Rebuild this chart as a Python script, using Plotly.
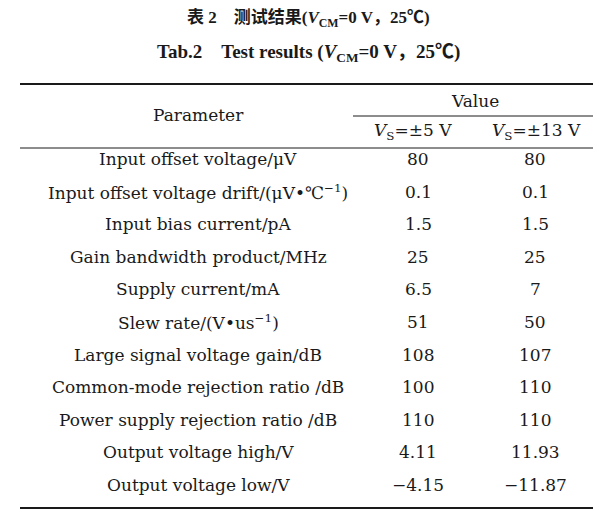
import plotly.graph_objects as go

params = ["Input offset voltage/μV", "Input offset voltage drift/(μV•℃<sup>−1</sup>)",
          "Input bias current/pA", "Gain bandwidth product/MHz", "Supply current/mA",
          "Slew rate/(V•us<sup>−1</sup>)", "Large signal voltage gain/dB",
          "Common-mode rejection ratio /dB", "Power supply rejection ratio /dB",
          "Output voltage high/V", "Output voltage low/V"]
vals5 = ["80", "0.1", "1.5", "25", "6.5", "51", "108", "100", "110", "4.11", "−4.15"]
vals13 = ["80", "0.1", "1.5", "25", "7", "50", "107", "110", "110", "11.93", "−11.87"]
headers = ["Parameter", "Value", "<i>V</i><sub>S</sub>=±5 V", "<i>V</i><sub>S</sub>=±13 V"]

W, H = 601, 510
row_y0, row_dy = 155, 32.6
cols = [190, 410, 527]
F = "DejaVu Serif, Liberation Serif, serif"
OFF = -7

fig = go.Figure()
ann = []
def t(x, y, s, size=17, bold=False, fam=F):
    ann.append(dict(x=x, y=y + OFF, text=(f"<b>{s}</b>" if bold else s), showarrow=False,
                    font=dict(family=fam, size=size, color="#1a1a1a"),
                    xanchor="center", yanchor="middle"))

t(300, 17, "表 2　测试结果(<i>V</i><sub>CM</sub>=0 V，25℃)", 17, True,
  "Liberation Serif, Noto Sans CJK SC")
t(300, 52, "Tab.2　Test results (<i>V</i><sub>CM</sub>=0 V，25℃)", 19, True,
  "Liberation Serif, Noto Sans CJK SC")
t(190, 114, headers[0])
t(467, 100, headers[1])
t(405, 130, headers[2])
t(528, 130, headers[3])
for i, (p, a, b) in enumerate(zip(params, vals5, vals13)):
    y = row_y0 + i * row_dy
    t(cols[0], y + 3, p)
    t(cols[1], y + 3, a)
    t(cols[2], y + 3, b)

shapes = [
    dict(type="line", x0=12, x1=590, y0=76, y1=76, line=dict(width=2, color="#1a1a1a")),
    dict(type="line", x0=345, x1=590, y0=108, y1=108, line=dict(width=1, color="#1a1a1a")),
    dict(type="line", x0=12, x1=590, y0=140, y1=140, line=dict(width=1, color="#1a1a1a")),
    dict(type="line", x0=12, x1=590, y0=500, y1=500, line=dict(width=2, color="#1a1a1a")),
]
for s in shapes:
    s.update(xref="x", yref="y")

fig.update_layout(width=W, height=H, margin=dict(l=0, r=0, t=0, b=0),
                  paper_bgcolor="white", plot_bgcolor="white",
                  annotations=ann, shapes=shapes, showlegend=False,
                  xaxis=dict(range=[0, W], visible=False, fixedrange=True),
                  yaxis=dict(range=[H, 0], visible=False, fixedrange=True))
fig.write_html("out.html")
